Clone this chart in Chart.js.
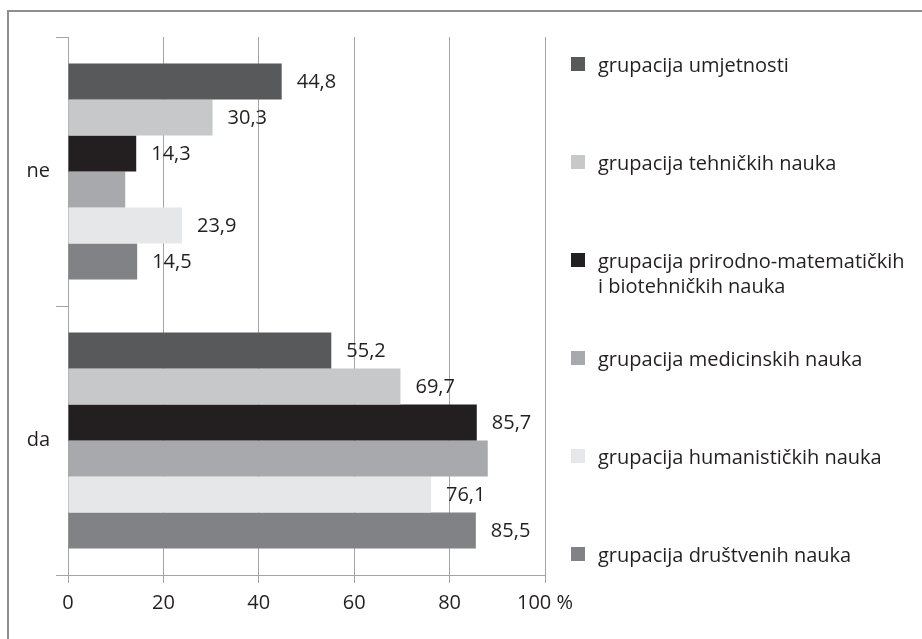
<!DOCTYPE html>
<html>
<head>
<meta charset="utf-8">
<script src="https://cdn.jsdelivr.net/npm/chart.js@4/dist/chart.umd.min.js"></script>
<style>
html,body{margin:0;padding:0;background:#fff;}
#wrap{position:relative;width:922px;height:639px;overflow:hidden;background:#fff;}
#frame{position:absolute;left:7px;top:10px;width:930px;height:640px;border-top:2px solid #8e8e8e;border-left:2px solid #8e8e8e;}
#chart{position:absolute;left:0;top:0;}
.item{position:absolute;left:571px;font-family:"Open Sans",sans-serif;font-size:20px;line-height:25px;color:#231f20;white-space:pre-line;}
.sw{position:absolute;left:0;width:14px;height:14px;}
.tx{position:absolute;left:27px;white-space:pre;}
</style>
</head>
<body>
<div id="wrap">
  <div id="frame"></div>
  <canvas id="chart" width="922" height="639"></canvas>
  <div id="legend"></div>
</div>
<script>
// ---- data ----
const categories = ['ne', 'da'];
const seriesNames = [
  'grupacija umjetnosti',
  'grupacija tehničkih nauka',
  'grupacija prirodno-matematičkih\ni biotehničkih nauka',
  'grupacija medicinskih nauka',
  'grupacija humanističkih nauka',
  'grupacija društvenih nauka'
];
const umjetnosti    = [44.8, 55.2];
const tehnickih     = [30.3, 69.7];
const prirodno      = [14.3, 85.7];
const medicinskih   = [12.0, 88.0];
const humanistickih = [23.9, 76.1];
const drustvenih    = [14.5, 85.5];
const seriesValues = [umjetnosti, tehnickih, prirodno, medicinskih, humanistickih, drustvenih];
const seriesColors = ['#58595b', '#c7c8ca', '#231f20', '#a7a9ac', '#e6e7e8', '#808285'];
const showValueLabels = [true, true, true, false, true, true];
const xTickLabels = ['0', '20', '40', '60', '80', '100 %'];

const FONT = '"Open Sans", sans-serif';
const TEXT = '#231f20';
const GRID = '#a2a4a7';

function fmt(v){ return v.toFixed(1).replace('.', ','); }

// legend (HTML)
const legend = document.getElementById('legend');
seriesNames.forEach((name, i) => {
  const top = 57 + i * 98;
  const it = document.createElement('div');
  it.className = 'item';
  it.style.top = top + 'px';
  const sw = document.createElement('div');
  sw.className = 'sw';
  sw.style.top = '0px';
  sw.style.background = seriesColors[i];
  const tx = document.createElement('div');
  tx.className = 'tx';
  tx.style.top = '-5.5px';
  tx.textContent = name;
  it.appendChild(sw); it.appendChild(tx);
  legend.appendChild(it);
});

const valueLabels = {
  id: 'valueLabels',
  afterDatasetsDraw(chart) {
    const ctx = chart.ctx;
    ctx.save();
    ctx.font = '20px ' + FONT;
    ctx.fillStyle = TEXT;
    ctx.textAlign = 'left';
    ctx.textBaseline = 'middle';
    chart.data.datasets.forEach((ds, i) => {
      if (!showValueLabels[i]) return;
      chart.getDatasetMeta(i).data.forEach((bar, j) => {
        ctx.fillText(fmt(ds.data[j]), bar.x + 15, bar.y + 1);
      });
    });
    ctx.restore();
  }
};

function draw(){
  new Chart(document.getElementById('chart'), {
    type: 'bar',
    data: {
      labels: categories,
      datasets: seriesNames.map((n, i) => ({
        label: n.replace('\n', ' '),
        data: seriesValues[i],
        backgroundColor: seriesColors[i],
        borderWidth: 0,
        barPercentage: 1,
        categoryPercentage: 0.803
      }))
    },
    options: {
      indexAxis: 'y',
      responsive: false,
      animation: false,
      devicePixelRatio: 1,
      layout: { padding: { left: 0, top: 37, right: 377, bottom: 0 } },
      plugins: { legend: { display: false }, tooltip: { enabled: false } },
      scales: {
        x: {
          min: 0, max: 100,
          ticks: {
            stepSize: 20,
            color: TEXT,
            font: { family: FONT, size: 20 },
            padding: 8,
            maxRotation: 0,
            callback: (v) => xTickLabels[Math.round(v / 20)]
          },
          grid: { color: GRID, lineWidth: 1, tickLength: 8 },
          border: { color: GRID, width: 1 },
          afterFit: (s) => { s.height = 64; }
        },
        y: {
          ticks: { color: TEXT, font: { family: FONT, size: 20 }, padding: 6 },
          grid: { drawOnChartArea: false, color: GRID, lineWidth: 1, tickLength: 12, offset: true },
          border: { color: GRID, width: 1 },
          afterFit: (s) => { s.width = 68; }
        }
      }
    },
    plugins: [valueLabels]
  });
}

if (document.fonts && document.fonts.load) {
  document.fonts.load('20px "Open Sans"').then(draw, draw);
} else { draw(); }
</script>
</body>
</html>
